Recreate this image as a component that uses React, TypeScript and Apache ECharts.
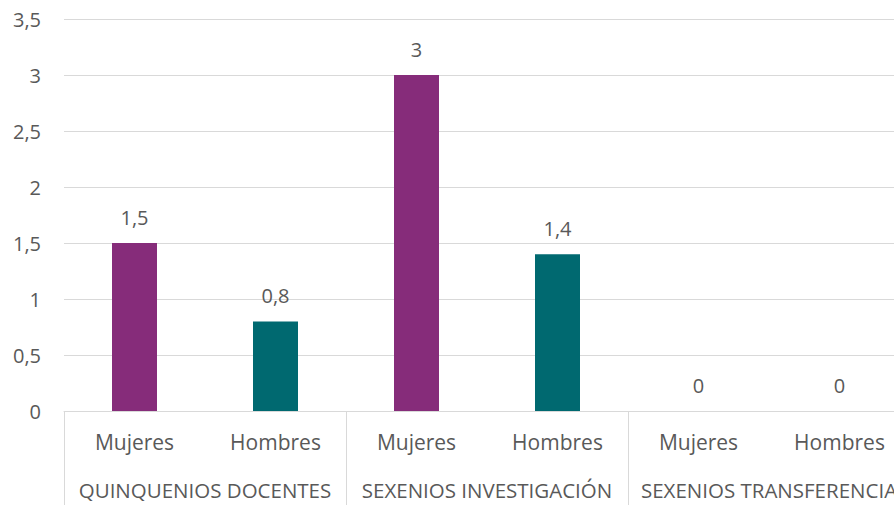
import React, { useEffect, useRef } from "react";
import * as echarts from "echarts";

const subCategories = ["Mujeres", "Hombres", "Mujeres", "Hombres", "Mujeres", "Hombres"];
const groupCategories = ["QUINQUENIOS DOCENTES", "SEXENIOS INVESTIGACIÓN", "SEXENIOS TRANSFERENCIA"];
const values = [1.5, 0.8, 3, 1.4, 0, 0];
const barColors = ["#862C7A", "#006970", "#862C7A", "#006970", "#862C7A", "#006970"];

const FONT = "'Open Sans', sans-serif";
const TEXT = "#595959";
const GRID = "#D9D9D9";

const fmt = (v: number) => String(v).replace(".", ",");

export default function App() {
  const ref = useRef<HTMLDivElement>(null);
  useEffect(() => {
    if (!ref.current) return;
    const chart = echarts.init(ref.current, undefined, { renderer: "svg" });
    chart.setOption({
      animation: false,
      grid: { left: 64, top: 19, width: 846, height: 392, containLabel: false },
      xAxis: [
        {
          type: "category",
          data: subCategories,
          position: "bottom",
          axisLine: { show: true, lineStyle: { color: GRID, width: 1 } },
          axisTick: { show: false },
          axisLabel: { color: TEXT, fontFamily: FONT, fontSize: 21, margin: 20, interval: 0 },
        },
        {
          type: "category",
          data: groupCategories,
          position: "bottom",
          axisLine: { show: false },
          axisTick: { show: true, length: 94, lineStyle: { color: GRID, width: 1 } },
          axisLabel: { color: TEXT, fontFamily: FONT, fontSize: 20.5, margin: 68, interval: 0 },
        },
      ],
      yAxis: {
        type: "value",
        min: 0,
        max: 3.5,
        interval: 0.5,
        axisLine: { show: false },
        axisTick: { show: false },
        splitLine: { lineStyle: { color: GRID, width: 1 } },
        axisLabel: {
          color: TEXT,
          fontFamily: FONT,
          fontSize: 20,
          margin: 23,
          formatter: (v: number) => fmt(v),
        },
      },
      series: [
        {
          type: "bar",
          xAxisIndex: 0,
          barWidth: 45,
          data: values.map((v, i) => ({ value: v, itemStyle: { color: barColors[i] } })),
          label: {
            show: true,
            position: "top",
            distance: 16,
            color: TEXT,
            fontFamily: FONT,
            fontSize: 20,
            formatter: (p: any) => fmt(p.value),
          },
        },
      ],
    });
    return () => chart.dispose();
  }, []);
  return (
    <div style={{ position: "absolute", left: 0, top: 0, width: 894, height: 505, overflow: "hidden" }}>
      <div ref={ref} style={{ width: 912, height: 505 }} />
    </div>
  );
}
